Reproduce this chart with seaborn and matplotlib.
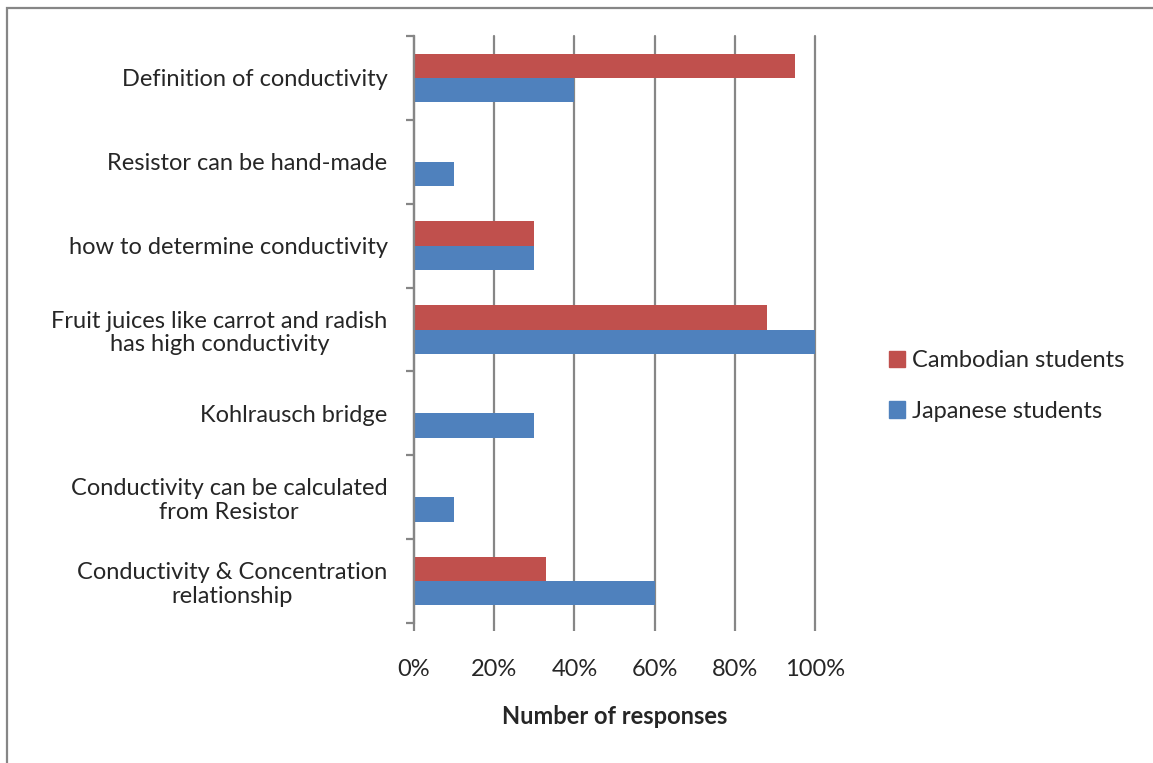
import pandas as pd
import matplotlib.pyplot as plt
import matplotlib.patches as mpatches
import seaborn as sns

# -------------------
# Data
# -------------------
topics = [
    "Definition of conductivity",
    "Resistor can be hand-made",
    "how to determine conductivity",
    "Fruit juices like carrot and radish\nhas high conductivity",
    "Kohlrausch bridge",
    "Conductivity can be calculated\nfrom Resistor",
    "Conductivity & Concentration\nrelationship",
]
cambodian = [95, 0, 30, 88, 0, 0, 33]
japanese = [40, 10, 30, 100, 30, 10, 60]
groups = ["Cambodian students", "Japanese students"]
colors = ["#C0504D", "#4F81BD"]
xticks = [0, 20, 40, 60, 80, 100]

df = pd.DataFrame({
    "Topic": topics * 2,
    "Share": cambodian + japanese,
    "Group": [groups[0]] * len(topics) + [groups[1]] * len(topics),
})

sns.set_style("white")
plt.rcParams["font.family"] = ["Lato", "DejaVu Sans"]
fs = 17

fig = plt.figure(figsize=(11.53, 7.63), dpi=100)
ax = fig.add_axes([414 / 1153, 1 - 623 / 763, 401 / 1153, 587 / 763])

sns.barplot(data=df, x="Share", y="Topic", hue="Group", order=topics,
            hue_order=groups, palette=colors, width=0.58, gap=0,
            saturation=1, orient="h", ax=ax, legend=False, linewidth=0)

grid = "#868686"
ax.set_xlim(0, 100)
ax.set_xticks(xticks)
ax.set_xticklabels([f"{t}%" for t in xticks], fontsize=fs)
ax.xaxis.grid(True, color=grid, linewidth=1.6)
for gl in ax.get_xgridlines():
    gl.set_clip_on(False)
ax.set_axisbelow(True)
for s in ["top", "right", "bottom"]:
    ax.spines[s].set_visible(False)
ax.spines["left"].set_color(grid)
ax.spines["left"].set_linewidth(1.6)

# category boundary ticks on y axis
ax.set_yticks([i - 0.5 for i in range(len(topics) + 1)], minor=True)
ax.tick_params(axis="y", which="minor", length=6, width=1.6, color=grid, left=True)
ax.tick_params(axis="y", which="major", length=0, pad=19, labelsize=fs)
ax.tick_params(axis="x", length=6, width=1.6, color=grid, bottom=True, pad=20)
for lab in ax.get_yticklabels():
    lab.set_multialignment("center")
    lab.set_linespacing(1.15)

ax.set_ylabel("")
ax.set_xlabel("Number of responses", fontsize=fs, fontweight="bold", labelpad=18)

handles = [mpatches.Patch(color=c, label=g) for c, g in zip(colors, groups)]
fig.legend(handles=handles, loc="center left", bbox_to_anchor=(877 / 1153, 1 - 386 / 763),
           frameon=False, fontsize=fs, handlelength=0.7, handleheight=0.7,
           handletextpad=0.3, labelspacing=1.25, borderpad=0)

# outer chart frame (only left and top edges fall inside the image)
fig.patches.append(mpatches.Rectangle((6.5 / 1153, -0.2), 1.2, 1.2 - 7.5 / 763,
                                      transform=fig.transFigure, fill=False,
                                      edgecolor=grid, linewidth=1.6))

fig.savefig("out.png", dpi=100)
